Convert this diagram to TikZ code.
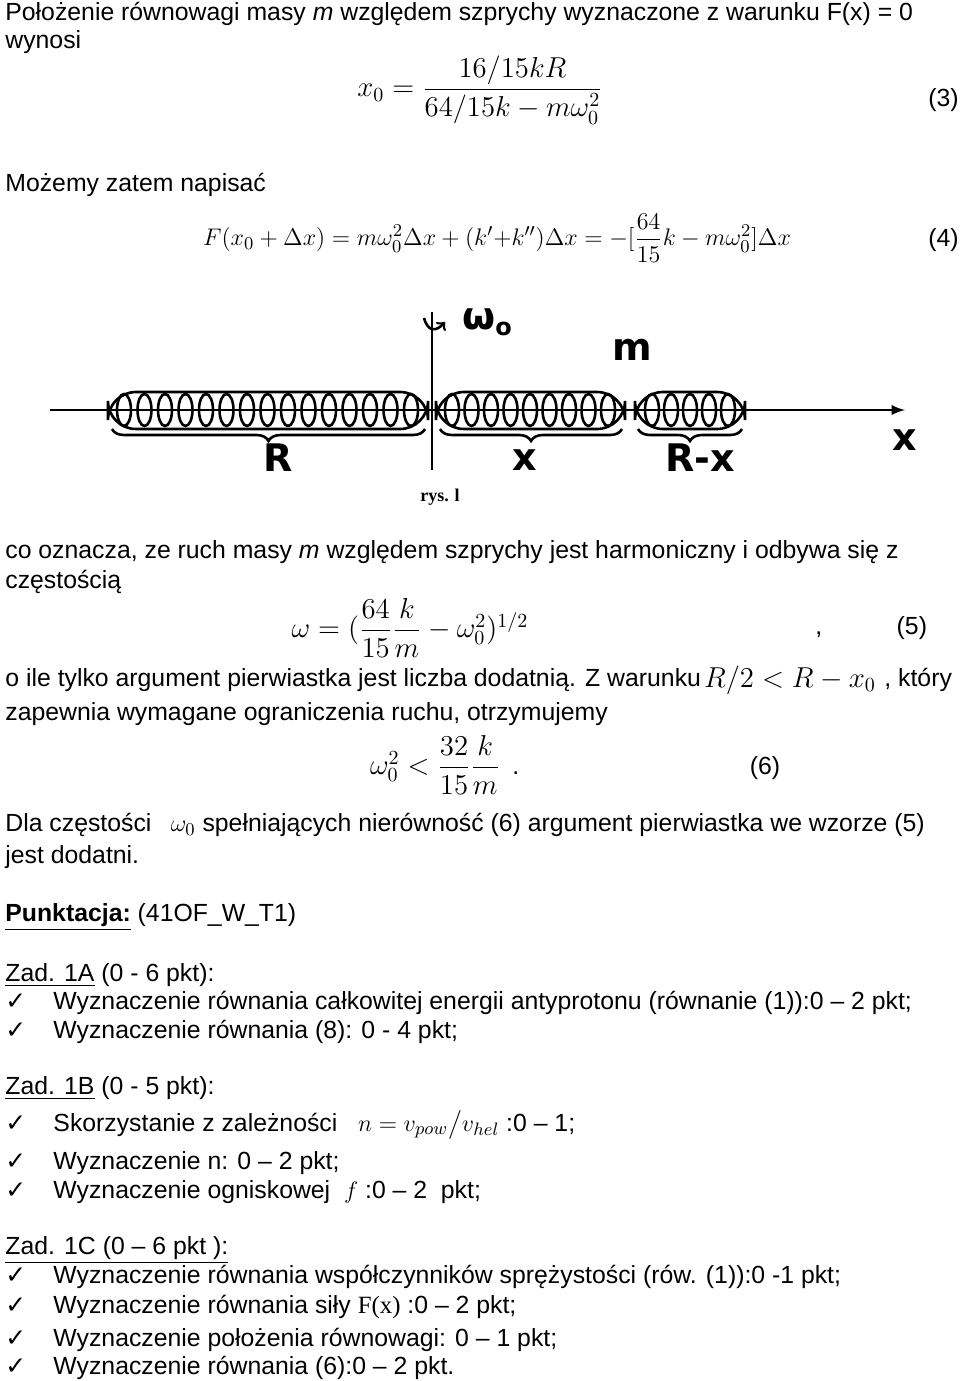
\documentclass[tikz,border=0pt]{standalone}
\usepackage{fontspec}
\setmainfont{Liberation Sans}
\newfontfamily\tms{Liberation Serif}
\newfontfamily\djv{DejaVu Sans}
\usepackage{amsmath}
\usetikzlibrary{decorations.pathreplacing}
\tikzset{
  txt/.style={anchor=west, inner sep=0pt, font=\fontsize{12.4}{14}\selectfont},
  eqn/.style={inner sep=0pt, font=\fontsize{14}{16}\selectfont},
  coil/.style={line width=1.3pt},
  brc/.style={decorate, decoration={brace, mirror, amplitude=6pt}, line width=1.3pt},
  fig/.style={inner sep=0pt, font=\djv\fontsize{19}{20}\selectfont\bfseries}
}
\newcommand{\chk}{{\djv\char"2713}\hspace{1.1em}}
\begin{document}
\begin{tikzpicture}[x=0.5pt,y=-0.5pt]
\useasboundingbox (0,0) rectangle (960,1381);
% header
\node[txt] (l1) at (5,14) {Położenie równowagi masy \textit{m} względem szprychy wyznaczone z warunku F(x) = 0};
\node[txt] (l2) at (5,42) {wynosi};
\node[eqn] (e3) at (480,90) {$x_0=\dfrac{16/15kR}{64/15k-m\omega_0^2}$};
\node[txt] (n3) at (928,100) {(3)};
\node[txt] (l3) at (5,185) {Możemy zatem napisać};
\node[eqn,font=\fontsize{12.5}{15}\selectfont] (e4) at (497,238) {$F(x_0+\Delta x)=m\omega_0^2\Delta x+(k'{+}k'')\Delta x=-[\dfrac{64}{15}k-m\omega_0^2]\Delta x$};
\node[txt] (n4) at (928,240) {(4)};
% figure
\coordinate (ax0) at (50,410);
\coordinate (ax1) at (905,410);
\draw[coil,-latex] (ax0) -- (ax1);
\coordinate (vt) at (432,312);
\coordinate (vb) at (432,470);
\draw[coil] (vt) -- (vb);
\draw[coil,->] (424,318) .. controls (428,332) and (436,332) .. (445,322);
\draw[coil,rounded corners=14pt] (108,392) rectangle (428,429);
\foreach \i in {0,...,14} \draw[coil] (124+\i*20.5,410) ellipse (7 and 16);
\draw[coil,rounded corners=14pt] (436,392) rectangle (625,429);
\foreach \i in {0,...,8} \draw[coil] (452+\i*19.5,410) ellipse (7 and 16);
\draw[coil,rounded corners=14pt] (635,392) rectangle (745,429);
\foreach \i in {0,...,4} \draw[coil] (652+\i*19,410) ellipse (7 and 16);
\draw[brc] (112,429) -- (425,429);
\draw[brc] (440,429) -- (622,429);
\draw[brc] (638,429) -- (742,429);
\node[fig] (om) at (487,322) {ω\raisebox{-3pt}{\fontsize{12}{12}\selectfont o}};
\node[fig] (mm) at (632,350) {m};
\node[fig] (xx) at (905,440) {x};
\node[fig] (lr) at (278,458) {R};
\node[fig] (lx) at (525,460) {x};
\node[fig] (lrx) at (700,458) {R-x};
\node[inner sep=0pt, font=\tms\fontsize{9}{10}\selectfont\bfseries] (rys) at (440,497) {rys. l};
% body
\node[txt] (b1) at (5,552) {co oznacza, ze ruch masy \textit{m} względem szprychy jest harmoniczny i odbywa się z};
\node[txt] (b2) at (5,582) {częstością};
\node[eqn] (e5) at (410,628) {$\omega=(\dfrac{64}{15}\dfrac{k}{m}-\omega_0^2)^{1/2}$};
\node[txt] (n5) at (815,628) {,\hspace{3em}(5)};
\node[txt] (b3) at (5,680) {o ile tylko argument pierwiastka jest liczba dodatnią. Z warunku};
\node[eqn] (e5b) at (790,680) {$R/2<R-x_0$};
\node[txt] (b3b) at (884,680) {, który};
\node[txt] (b4) at (5,714) {zapewnia wymagane ograniczenia ruchu, otrzymujemy};
\node[eqn] (e6) at (435,765) {$\omega_0^2<\dfrac{32}{15}\dfrac{k}{m}$};
\node[txt] (n6) at (512,768) {.\hspace{9.3em}(6)};
\node[txt] (b5) at (5,825) {Dla częstości \enspace$\omega_0$ spełniających nierówność (6) argument pierwiastka we wzorze (5)};
\node[txt] (b6) at (5,857) {jest dodatni.};
\node[txt] (b7) at (5,917) {\underline{\textbf{Punktacja:}} (41OF\_W\_T1)};
\node[txt] (z1) at (5,975) {\underline{Zad. 1A} (0 - 6 pkt):};
\node[txt] (z11) at (5,1003) {\chk Wyznaczenie równania całkowitej energii antyprotonu (równanie (1)):0 -- 2 pkt;};
\node[txt] (z12) at (5,1032) {\chk Wyznaczenie równania (8): 0 - 4 pkt;};
\node[txt] (z2) at (5,1088) {\underline{Zad. 1B} (0 - 5 pkt):};
\node[txt] (z21) at (5,1125) {\chk Skorzystanie z zależności \; $n=v_{pow}\big/v_{hel}$ :0 -- 1;};
\node[txt] (z22) at (5,1163) {\chk Wyznaczenie n: 0 -- 2 pkt;};
\node[txt] (z23) at (5,1192) {\chk Wyznaczenie ogniskowej \;$f$ :0 -- 2 \ pkt;};
\node[txt] (z3) at (5,1250) {\underline{Zad. 1C (0 -- 6 pkt ):}};
\node[txt] (z31) at (5,1277) {\chk Wyznaczenie równania współczynników sprężystości (rów. (1)):0 -1 pkt;};
\node[txt] (z32) at (5,1307) {\chk Wyznaczenie równania siły {\tms F(x)} :0 -- 2 pkt;};
\node[txt] (z33) at (5,1340) {\chk Wyznaczenie położenia równowagi: 0 -- 1 pkt;};
\node[txt] (z34) at (5,1368) {\chk Wyznaczenie równania (6):0 -- 2 pkt.};
\end{tikzpicture}
\end{document}
